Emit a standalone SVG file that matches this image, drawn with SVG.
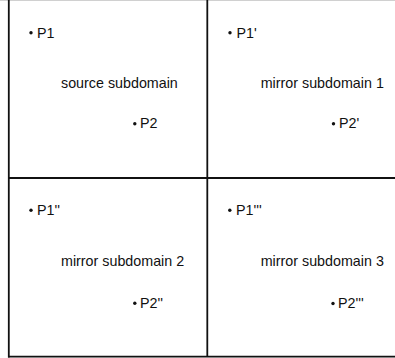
<svg xmlns="http://www.w3.org/2000/svg" width="395" height="358" viewBox="0 0 395 358">
<style>
.t{font-family:"Liberation Sans",Arial,sans-serif;font-size:14.3px;fill:#111}
.b{fill:#111}
.ln{stroke:#111;stroke-width:1.8;fill:none}
</style>
<rect width="395" height="358" fill="#fff"/>
<g id="frame">
<line x1="0" y1="0.5" x2="395" y2="0.5" stroke="#d0d0d0" stroke-width="1"/>
<line class="ln" x1="8.8" y1="0" x2="8.8" y2="357.5"/>
<line class="ln" x1="8" y1="356.6" x2="395" y2="356.6"/>
<line class="ln" x1="207.3" y1="0" x2="207.3" y2="356.6"/>
<line class="ln" x1="8" y1="178" x2="395" y2="178"/>
</g>
<g id="source">
<circle class="b" cx="31" cy="32.8" r="1.7"/>
<text class="t" x="37" y="37.5">P1</text>
<text class="t" x="61" y="87.5">source subdomain</text>
<circle class="b" cx="134.8" cy="123.8" r="1.7"/>
<text class="t" x="140" y="128.3">P2</text>
</g>
<g id="mirror1">
<circle class="b" cx="230" cy="32.8" r="1.7"/>
<text class="t" x="236.5" y="37.5">P1'</text>
<text class="t" x="260.7" y="87.5">mirror subdomain 1</text>
<circle class="b" cx="333.5" cy="123.8" r="1.7"/>
<text class="t" x="339" y="128.3">P2'</text>
</g>
<g id="mirror2">
<circle class="b" cx="31" cy="210.3" r="1.7"/>
<text class="t" x="37" y="214.8">P1''</text>
<text class="t" x="61" y="266">mirror subdomain 2</text>
<circle class="b" cx="134.8" cy="303.3" r="1.7"/>
<text class="t" x="140" y="307.8">P2''</text>
</g>
<g id="mirror3">
<circle class="b" cx="229.8" cy="210.3" r="1.7"/>
<text class="t" x="236" y="214.8">P1'''</text>
<text class="t" x="260.7" y="266">mirror subdomain 3</text>
<circle class="b" cx="333" cy="303.5" r="1.7"/>
<text class="t" x="338" y="308">P2'''</text>
</g>
</svg>
